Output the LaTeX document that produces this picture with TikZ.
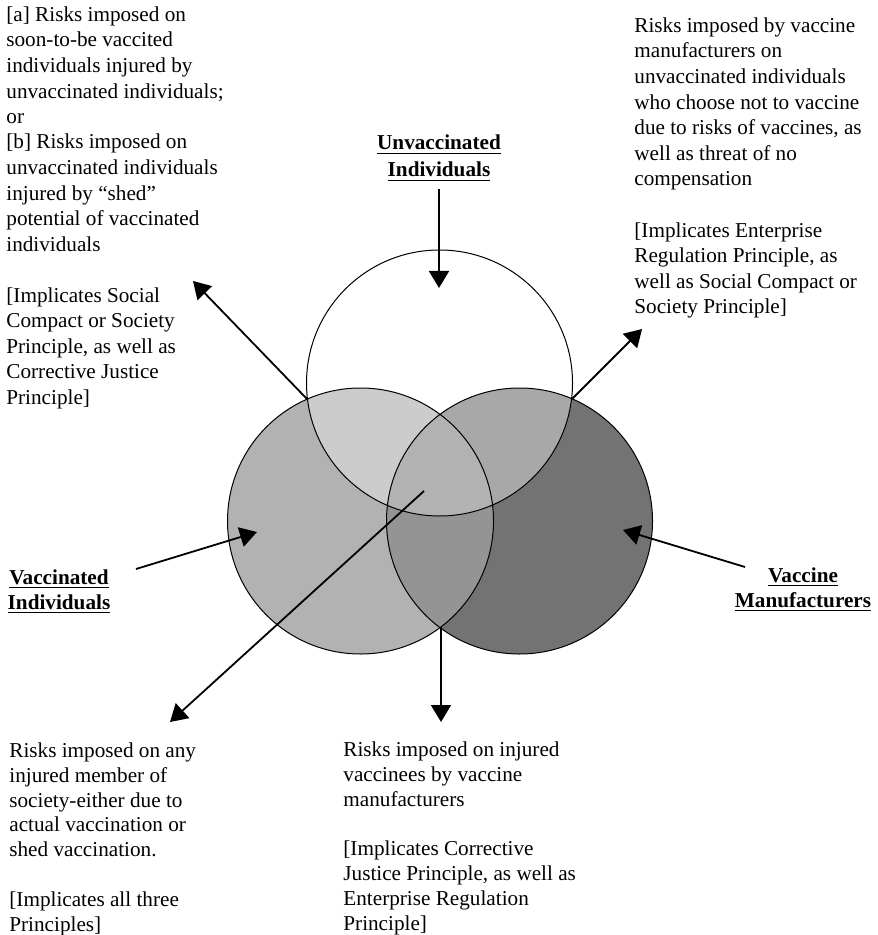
\documentclass[tikz,border=0pt]{standalone}
\usepackage{fontspec}
\setmainfont{Liberation Serif}
\usetikzlibrary{arrows.meta}

\begin{document}
\begin{tikzpicture}[x=0.5pt,y=-0.5pt,
    pointer/.style={-{Triangle[length=8.5pt,width=10pt]},line width=0.9pt},
    note/.style={align=left,anchor=base west,inner sep=0pt,
      font=\fontsize{10.6}{#1}\selectfont},
    party/.style={align=center,anchor=base,inner sep=0pt,
      font=\bfseries\fontsize{10.6}{#1}\selectfont}]
    \useasboundingbox (0,0) rectangle (877,935);

    %circles
    \coordinate (T) at (439.5,383);
    \coordinate (L) at (360.5,521);
    \coordinate (R) at (519.5,521);
    \fill[black!30] (L) circle[radius=66.5pt];
    \fill[black!55] (R) circle[radius=66.5pt];
    \begin{scope}
    \clip (L) circle[radius=66.5pt];
    \fill[black!42] (R) circle[radius=66.5pt];
    \end{scope}
    \fill[white] (T) circle[radius=66.5pt];
    \begin{scope}
    \clip (T) circle[radius=66.5pt];
    \fill[black!20] (L) circle[radius=66.5pt];
    \fill[black!34] (R) circle[radius=66.5pt];
    \clip (L) circle[radius=66.5pt];
    \fill[black!30] (R) circle[radius=66.5pt];
    \end{scope}
    \draw[line width=0.5pt] (T) circle[radius=66.5pt]
                            (L) circle[radius=66.5pt]
                            (R) circle[radius=66.5pt];

    %parties (anchored at the baseline of the last line)
    \node[party=13.5pt] (unvac) at (439,177) {\underline{Unvaccinated}\\\underline{Individuals}};
    \node[party=12.5pt] (vac) at (59,609) {\underline{Vaccinated}\\\underline{Individuals}};
    \node[party=12.5pt] (maker) at (803,607) {\underline{Vaccine}\\\underline{Manufacturers}};

    %risks
    \node[note=12.75pt] (riskA) at (6,404) {[a] Risks imposed on\\
      soon-to-be vaccited\\
      individuals injured by\\
      unvaccinated individuals;\\
      or\\
      {[b]} Risks imposed on\\
      unvaccinated individuals\\
      injured by ``shed''\\
      potential of vaccinated\\
      individuals\\[12.75pt]
      {[}Implicates Social\\
      Compact or Society\\
      Principle, as well as\\
      Corrective Justice\\
      Principle]};
    \node[note=12.8pt] (riskB) at (634,314) {Risks imposed by vaccine\\
      manufacturers on\\
      unvaccinated individuals\\
      who choose not to vaccine\\
      due to risks of vaccines, as\\
      well as threat of no\\
      compensation\\[12.8pt]
      {[}Implicates Enterprise\\
      Regulation Principle, as\\
      well as Social Compact or\\
      Society Principle]};
    \node[note=12.4pt] (riskC) at (9,931) {Risks imposed on any\\
      injured member of\\
      society-either due to\\
      actual vaccination or\\
      shed vaccination.\\[12.4pt]
      {[}Implicates all three\\
      Principles]};
    \node[note=12.4pt] (riskD) at (343,930) {Risks imposed on injured\\
      vaccinees by vaccine\\
      manufacturers\\[12.4pt]
      {[}Implicates Corrective\\
      Justice Principle, as well as\\
      Enterprise Regulation\\
      Principle]};

    %arrows
    \coordinate (a1) at (439,189);   \coordinate (b1) at (439,288);
    \coordinate (a2) at (307,399);   \coordinate (b2) at (193,281);
    \coordinate (a3) at (572,399);   \coordinate (b3) at (642,329);
    \coordinate (a4) at (136,569);   \coordinate (b4) at (257,532);
    \coordinate (a5) at (745,567);   \coordinate (b5) at (623,530);
    \coordinate (a6) at (424,491);   \coordinate (b6) at (170,722);
    \coordinate (a7) at (441,627);   \coordinate (b7) at (441,722);
    \foreach \i in {1,...,7}
      \draw[pointer] (a\i) -- (b\i);

  \end{tikzpicture}
\end{document}
